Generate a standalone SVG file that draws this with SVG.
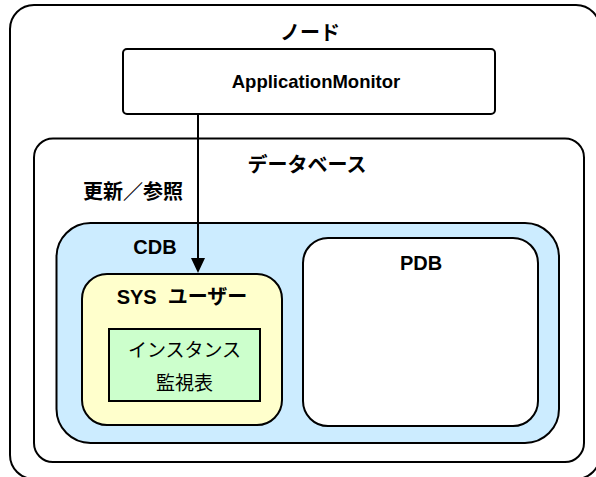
<svg xmlns="http://www.w3.org/2000/svg" width="596" height="477" viewBox="0 0 596 477">
<defs>
<style>
.box{stroke:#000;stroke-width:2}
.t{font-family:"Liberation Sans","Noto Sans CJK JP",sans-serif;font-size:18.5px;text-anchor:middle;fill:#000}
.b{font-weight:bold}
.j{font-size:20px}
.n{font-family:"Noto Sans CJK JP","Liberation Sans",sans-serif;font-size:19px}
</style>
</defs>
<rect width="596" height="477" fill="#fff"/>
<g id="node">
<rect class="box" x="10" y="5" width="590" height="474" rx="24" fill="#fff"/>
<text class="t b j" x="310" y="40">ノード</text>
</g>
<g id="appmon">
<rect class="box" x="123" y="49" width="372" height="65" rx="4" fill="#fff"/>
<text class="t b" x="316" y="88">ApplicationMonitor</text>
</g>
<g id="database">
<rect class="box" x="34" y="138.5" width="550" height="323.5" rx="19" fill="#fff"/>
<text class="t b j" x="307" y="172">データベース</text>
<text class="t b j" x="133" y="199">更新／参照</text>
</g>
<g id="cdb">
<rect class="box" x="56.5" y="223" width="502.5" height="220" rx="34" fill="#CCECFF"/>
<text class="t b j" x="155" y="254">CDB</text>
</g>
<g id="sysuser">
<rect class="box" x="82" y="274" width="200" height="151" rx="25" fill="#FFFFCC"/>
<text class="t b j" x="182" y="304" xml:space="preserve">SYS  ユーザー</text>
</g>
<g id="monitor-table">
<rect class="box" x="109" y="329" width="151" height="72" fill="#CCFFCC"/>
<text class="t n" x="184.5" y="357">インスタンス</text>
<text class="t n" x="184.5" y="390">監視表</text>
</g>
<g id="pdb">
<rect class="box" x="303" y="238" width="235" height="188" rx="25" fill="#fff"/>
<text class="t b j" x="421" y="270">PDB</text>
</g>
<g id="connectors">
<line x1="198" y1="114" x2="198" y2="260" stroke="#000" stroke-width="2"/>
<path d="M191,258 L205,258 L198,273 Z" fill="#000"/>
</g>
</svg>
